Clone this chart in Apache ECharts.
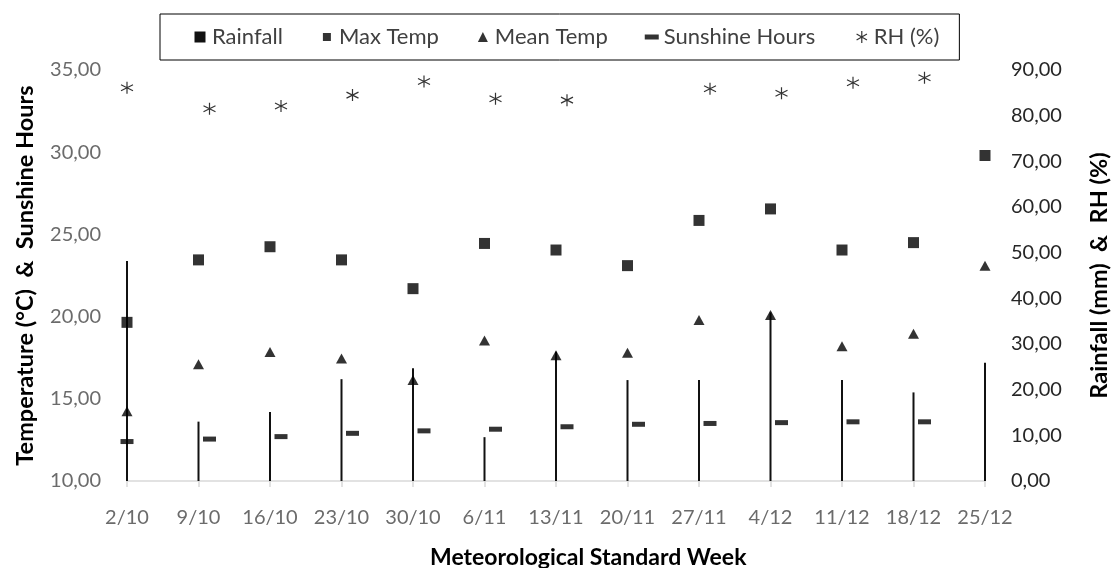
<!DOCTYPE html>
<html>
<head>
<meta charset="utf-8">
<script src="https://cdn.jsdelivr.net/npm/echarts@6/dist/echarts.min.js"></script>
<style>
  html, body { margin: 0; padding: 0; background: #fff; }
  #chart { width: 1119px; height: 568px; }
</style>
</head>
<body>
<div id="chart"></div>
<script>
  // week labels (x axis)
  const weeks = ['2/10', '9/10', '16/10', '23/10', '30/10', '6/11', '13/11', '20/11', '27/11', '4/12', '11/12', '18/12', '25/12'];

  // left axis: temperature & sunshine
  const maxTemp = [19.65, 23.45, 24.25, 23.45, 21.7, 24.45, 24.05, 23.1, 25.85, 26.55, 24.05, 24.5, 29.8];
  const meanTemp = [14.25, 17.1, 17.85, 17.45, 16.15, 18.55, 17.65, 17.8, 19.8, 20.1, 18.2, 18.95, 23.1];
  const sunshine = [12.4, 12.55, 12.7, 12.9, 13.05, 13.15, 13.3, 13.45, 13.5, 13.55, 13.6, 13.6, null];

  // right axis: rainfall & RH
  const rainfall = [48.2, 13.0, 15.1, 22.3, 24.7, 9.6, 28.3, 22.1, 22.1, 36.9, 22.1, 19.4, 25.9];
  const rh = [86.1, 81.5, 82.1, 84.5, 87.5, 83.7, 83.4, 90.1, 85.9, 84.9, 87.2, 88.3, null];

  const starPath = 'path://M6 0V12M0.8 3L11.2 9M0.8 9L11.2 3';

  // first point sits on the week, the rest a bit to the right (as in the original)
  function shifted(arr) {
    return arr.map(function (v, i) {
      return { value: v, symbolOffset: i === 0 ? [0, 0] : [11, 0] };
    });
  }

  function fmt(v) {
    return v.toFixed(2).replace('.', ',');
  }

  const chart = echarts.init(document.getElementById('chart'));

  const option = {
    animation: false,
    textStyle: { fontFamily: 'Lato' },
    legend: {
      left: 160,
      top: 14,
      padding: [12, 20, 12, 33],
      borderColor: '#000',
      borderWidth: 1,
      itemWidth: 14,
      itemHeight: 14,
      itemGap: 37,
      textStyle: { fontSize: 22, color: '#404040', fontFamily: 'Lato' },
      data: [
        { name: 'Rainfall', icon: 'path://M0 0M14 14M1.5 1.5h11v11h-11z' },
        { name: 'Max Temp', icon: 'path://M0 0M14 14M3 3h8v8h-8z' },
        { name: 'Mean Temp', icon: 'path://M0 0M14 14M7 2L12 12H2z' },
        { name: 'Sunshine Hours', icon: 'path://M0 0M14 14M0 4.5h14v5h-14z' },
        { name: 'RH (%)', icon: 'path://M0 0M14 14M7 1V13M1.8 4L12.2 10M1.8 10L12.2 4',
          itemStyle: { color: 'none', borderColor: '#000', borderWidth: 1.2 } }
      ]
    },
    title: {
      text: 'Meteorological Standard Week',
      left: 430,
      top: 546,
      padding: 0,
      textStyle: { fontFamily: 'Lato', fontSize: 23, fontWeight: 'bold', color: '#000' }
    },
    grid: {
      left: 127,
      right: 127,
      top: 70,
      bottom: 87
    },
    xAxis: {
      type: 'category',
      boundaryGap: false,
      data: weeks,
      axisLine: { lineStyle: { color: '#d9d9d9', width: 1.5 } },
      axisTick: { show: true, length: 6, lineStyle: { color: '#d9d9d9', width: 1.5 } },
      axisLabel: { color: '#6b6b6b', fontSize: 20, margin: 27, interval: 0, fontFamily: 'Lato' },
      splitLine: { show: false }
    },
    yAxis: [
      {
        type: 'value',
        min: 10,
        max: 35,
        interval: 5,
        name: 'Temperature (°C)  &  Sunshine Hours',
        nameLocation: 'middle',
        nameGap: 90,
        nameTextStyle: { fontSize: 23.5, fontWeight: 'bold', color: '#000', fontFamily: 'Lato' },
        axisLine: { show: false },
        axisTick: { show: false },
        splitLine: { show: false },
        axisLabel: { color: '#6b6b6b', fontSize: 20, margin: 26, formatter: fmt, fontFamily: 'Lato' }
      },
      {
        type: 'value',
        min: 0,
        max: 90,
        interval: 10,
        name: 'Rainfall (mm)  &  RH (%)',
        nameLocation: 'middle',
        nameGap: 102,
        nameTextStyle: { fontSize: 23.5, fontWeight: 'bold', color: '#000', fontFamily: 'Lato' },
        axisLine: { show: false },
        axisTick: { show: false },
        splitLine: { show: false },
        axisLabel: { color: '#262626', fontSize: 20, margin: 26, formatter: fmt, fontFamily: 'Lato' }
      }
    ],
    series: [
      {
        name: 'Rainfall',
        type: 'bar',
        yAxisIndex: 1,
        barWidth: 2,
        itemStyle: { color: '#111' },
        data: rainfall,
        z: 1
      },
      {
        name: 'Max Temp',
        type: 'scatter',
        yAxisIndex: 0,
        symbol: 'rect',
        symbolSize: 11,
        itemStyle: { color: '#000' },
        data: maxTemp,
        z: 3
      },
      {
        name: 'Mean Temp',
        type: 'scatter',
        yAxisIndex: 0,
        symbol: 'triangle',
        symbolSize: [11, 10],
        itemStyle: { color: '#000' },
        data: meanTemp,
        z: 3
      },
      {
        name: 'Sunshine Hours',
        type: 'scatter',
        yAxisIndex: 0,
        symbol: 'rect',
        symbolSize: [13, 5],
        itemStyle: { color: '#000' },
        data: shifted(sunshine),
        z: 3
      },
      {
        name: 'RH (%)',
        type: 'scatter',
        yAxisIndex: 1,
        symbol: starPath,
        symbolSize: 12,
        itemStyle: { color: 'none', borderColor: '#000', borderWidth: 1.2 },
        data: shifted(rh),
        z: 3
      }
    ]
  };

  chart.setOption(option);
  window.addEventListener('resize', function () {
    chart.resize();
  });
</script>
</body>
</html>
